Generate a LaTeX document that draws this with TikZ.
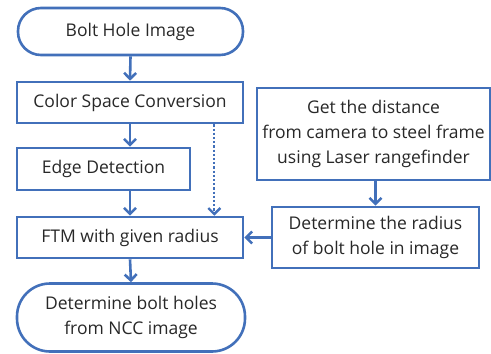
\documentclass[tikz,border=0pt]{standalone}
\usepackage{fontspec}
\setmainfont{Open Sans}
\usetikzlibrary{arrows.meta}
\definecolor{fblue}{RGB}{66,112,186}
\definecolor{ftext}{RGB}{40,40,40}
\tikzset{
  box/.style={draw=fblue, line width=2.6pt, fill=white, text=ftext, align=center, inner sep=0pt, font=\fontsize{17.5}{25}\selectfont},
  arr/.style={draw=fblue, line width=2.6pt, -{Straight Barb[length=6pt,width=12pt,line width=2.6pt]}},
  darr/.style={draw=fblue, line width=2.2pt, dotted, -{Straight Barb[length=6pt,width=12pt,line width=2.4pt]}}
}
\begin{document}
\begin{tikzpicture}[x=1pt,y=-1pt]
\useasboundingbox (0,0) rectangle (491,354);
\node[box, minimum width=225pt, minimum height=47pt, rounded corners=23pt] (bolt) at (130.5,31.5) {Bolt Hole Image};
\node[box, minimum width=226pt, minimum height=41pt] (csc) at (130,102.5) {Color Space Conversion};
\node[box, minimum width=173pt, minimum height=42pt] (edge) at (103.5,169) {Edge Detection};
\node[box, minimum width=226pt, minimum height=41pt] (ftm) at (130,237.5) {FTM with given radius};
\node[box, minimum width=228pt, minimum height=68pt, rounded corners=33pt] (final) at (131,317.5) {Determine bolt holes\\from NCC image};
\node[box, minimum width=233pt, minimum height=92pt] (dist) at (373.5,134) {Get the distance\\from camera to steel frame\\using Laser rangefinder};
\node[box, minimum width=207pt, minimum height=61pt] (rad) at (375.5,237.5) {Determine the radius\\of bolt hole in image};
\draw[arr] (bolt.south) -- (csc.north);
\draw[arr] (csc.south) -- (csc.south |- edge.north);
\draw[arr] (edge.south -| ftm.north) -- (ftm.north);
\draw[arr] (ftm.south) -- (final.north);
\draw[darr] ([xshift=-30pt]csc.south east) -- ([xshift=-30pt]ftm.north east);
\draw[arr] (rad.north |- dist.south) -- (rad.north);
\draw[arr] (rad.west) -- (ftm.east);
\end{tikzpicture}
\end{document}
